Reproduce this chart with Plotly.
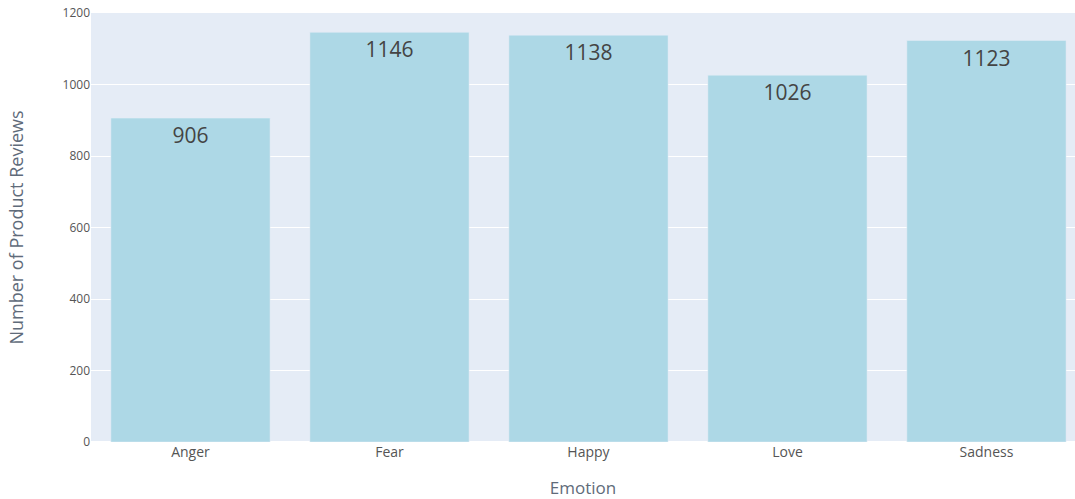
import plotly.graph_objects as go

emotions = ["Anger", "Fear", "Happy", "Love", "Sadness"]
counts = [906, 1146, 1138, 1026, 1123]

fig = go.Figure(go.Bar(
    x=emotions, y=counts, text=counts,
    textposition="inside", insidetextanchor="end",
    textfont=dict(size=21, color="#444"),
    marker_color="lightblue",
))
fig.update_layout(
    width=1075, height=499,
    template="plotly",
    margin=dict(l=91, r=0, t=13, b=57),
    font=dict(family="Open Sans", color="#555"),
    xaxis=dict(title=dict(text="Emotion", font=dict(size=17, color="#5f6b7a"), standoff=22),
               tickfont=dict(size=14, color="#555"), range=[-0.5, 4.445], automargin=False),
    yaxis=dict(title=dict(text="Number of Product Reviews", font=dict(size=18, color="#5f6b7a"), standoff=34),
               range=[0, 1200], tickfont=dict(size=12, color="#555"), automargin=False),
    showlegend=False,
)
fig.write_html("out.html")
